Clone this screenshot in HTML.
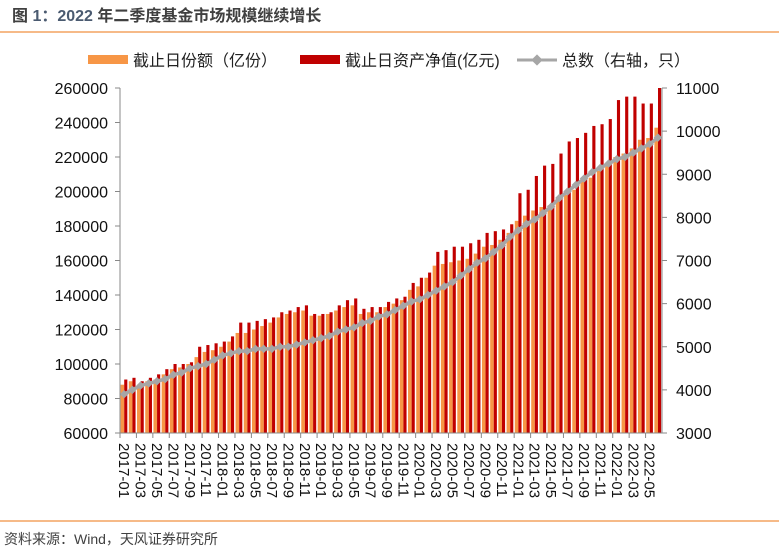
<!DOCTYPE html>
<html><head><meta charset="utf-8"><style>
body{margin:0;background:#fff;width:779px;height:549px;overflow:hidden;font-family:"Liberation Sans","Noto Sans CJK SC",sans-serif}
</style></head><body>
<svg id="c" width="779" height="549" xmlns="http://www.w3.org/2000/svg">
<text x="12" y="21" font-size="16" font-weight="bold" fill="#404040" font-family="Liberation Sans, Noto Sans CJK SC, sans-serif">图 <tspan fill="#4a5a70">1：2022</tspan> 年二季度基金市场规模继续增长</text>
<line x1="0" y1="32" x2="779" y2="32" stroke="#f4a460" stroke-width="1.5"/>
<line x1="0" y1="521" x2="779" y2="521" stroke="#f4a460" stroke-width="1.5"/>
<text x="4" y="544" font-size="14" fill="#404040">资料来源：Wind，天风证券研究所</text>
<g>
<rect x="88" y="55" width="40" height="9" fill="#f79646"/>
<text x="133" y="66" font-size="16" fill="#222">截止日份额（亿份）</text>
<rect x="300" y="55" width="40" height="9" fill="#c00000"/>
<text x="345" y="66" font-size="16" fill="#222">截止日资产净值(亿元)</text>
<line x1="517" y1="60" x2="557" y2="60" stroke="#a6a6a6" stroke-width="3"/>
<rect x="533" y="56" width="8" height="8" fill="#a6a6a6" transform="rotate(45 537 60)"/>
<text x="562" y="66" font-size="16" fill="#222">总数（右轴，只）</text>
</g>
<g id="plot"></g>
</svg>
<script>
const months=[];for(let y=2017;y<=2022;y++)for(let m=1;m<=12;m++){if(y===2022&&m>6)break;months.push(y+'-'+String(m).padStart(2,'0'));}
const shareVals=[88000,90000,88000,90000,91000,94000,97000,98000,100000,104000,107000,108000,110000,113000,118000,118000,120000,122000,124000,127000,129000,130000,131000,128000,128000,129000,131000,133000,134000,129000,130000,130000,133000,135000,137000,143000,145000,150000,157000,158000,159000,160000,161000,164000,168000,169000,172000,176000,183000,186000,189000,191000,192000,195000,198000,201000,206000,208000,212000,216000,220000,222000,225000,230000,231000,237000];
const navVals=[91000,92000,90000,92000,94000,97000,100000,100000,101000,110000,111000,112000,113000,116000,124000,124000,125000,126000,127000,130000,131000,133000,134000,129000,129000,130000,134000,137000,138000,132000,133000,133000,136000,138000,139000,147000,150000,153000,165000,166000,168000,168000,170000,172000,176000,177000,178000,181000,199000,201000,209000,215000,216000,222000,229000,231000,234000,238000,239000,242000,253000,255000,255000,251000,251000,260000];
const countVals=[3900,4000,4100,4150,4200,4250,4350,4400,4500,4550,4600,4700,4800,4850,4900,4900,4950,4950,4950,5000,5000,5050,5100,5150,5200,5250,5350,5400,5450,5550,5600,5700,5750,5850,5950,6050,6100,6200,6300,6400,6500,6650,6800,6950,7050,7200,7350,7550,7700,7850,7950,8100,8250,8450,8600,8750,8900,9050,9150,9250,9350,9400,9500,9600,9700,9850];
const leftTicks=[60000,80000,100000,120000,140000,160000,180000,200000,220000,240000,260000];
const rightTicks=[3000,4000,5000,6000,7000,8000,9000,10000,11000];
const X0=120,X1=662,Y0=433,Y1=88,NS='http://www.w3.org/2000/svg';
const band=(X1-X0)/months.length;
const yL=v=>Y0-(v-60000)/200000*(Y0-Y1);
const yR=v=>Y0-(v-3000)/8000*(Y0-Y1);
const xC=i=>X0+band*(i+0.5);
const g=document.getElementById('plot');
function mk(t,a){const e=document.createElementNS(NS,t);for(const k in a)e.setAttribute(k,a[k]);g.appendChild(e);return e;}
months.forEach((m,i)=>{
 let r=mk('rect',{x:X0+band*i+0.6,y:yL(shareVals[i]),width:band*0.44,height:Y0-yL(shareVals[i]),fill:'#f79646'});
 
 
 let r2=mk('rect',{x:X0+band*i+0.6+band*0.44,y:yL(navVals[i]),width:band*0.38,height:Y0-yL(navVals[i]),fill:'#c00000'});
 
 
});
const pts=countVals.map((v,i)=>xC(i)+','+yR(v)).join(' ');
let pl=mk('polyline',{points:pts,fill:'none',stroke:'#a6a6a6','stroke-width':3.5});


countVals.forEach((v,i)=>{
 let d=mk('rect',{x:xC(i)-3,y:yR(v)-3,width:6,height:6,fill:'#a6a6a6',transform:`rotate(45 ${xC(i)} ${yR(v)})`});
 
 
});
let ax=mk('line',{x1:X0,y1:Y1,x2:X0,y2:Y0,stroke:'#888'});
let ax2=mk('line',{x1:X1,y1:Y1,x2:X1,y2:Y0,stroke:'#888'});
let ax3=mk('line',{x1:X0,y1:Y0,x2:X1,y2:Y0,stroke:'#888'});
leftTicks.forEach(v=>{
 mk('line',{x1:X0-5,y1:yL(v),x2:X0,y2:yL(v),stroke:'#888'});
 let t=mk('text',{x:X0-12,y:yL(v)+6,'text-anchor':'end','font-size':16,fill:'#111'});t.textContent=v;
 
 
});
rightTicks.forEach(v=>{
 mk('line',{x1:X1,y1:yR(v),x2:X1+5,y2:yR(v),stroke:'#888'});
 let t=mk('text',{x:X1+14,y:yR(v)+6,'font-size':16,fill:'#111'});t.textContent=v;
 
 
});
months.forEach((m,i)=>{
 if(i%2===0){mk('line',{x1:X0+band*i,y1:Y0,x2:X0+band*i,y2:Y0+5,stroke:'#888'});
 let t=mk('text',{x:0,y:0,'font-size':15,fill:'#111',transform:`translate(${xC(i)-5},${Y0+10}) rotate(90)`});t.textContent=m;
 
 }
});
</script>
</body></html>
